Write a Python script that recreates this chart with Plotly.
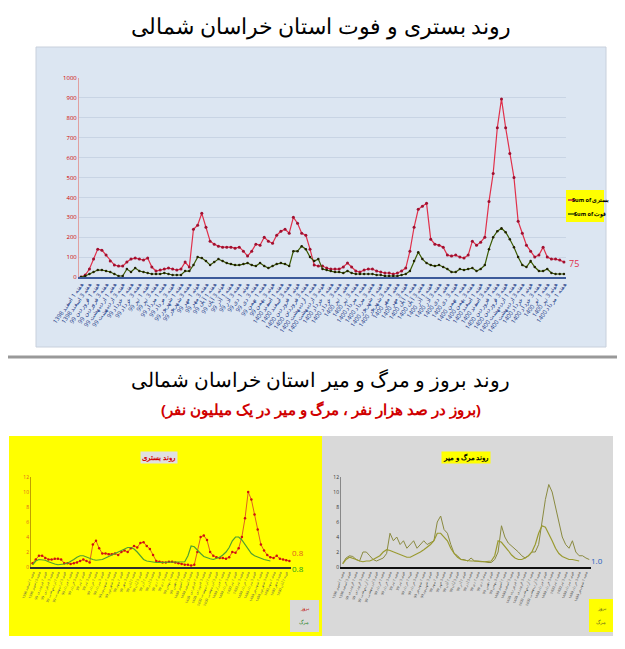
import plotly.graph_objects as go

W, H = 625, 649

# top chart: weekly hospitalised and deaths
hosp = [0, 10, 40, 90, 140, 135, 110, 80, 60, 55, 55, 75, 90, 95, 90, 85, 95, 50, 30, 35,
        40, 45, 40, 35, 40, 75, 50, 240, 260, 320, 250, 180, 165, 155, 150, 150, 150, 145, 150, 130,
        105, 130, 165, 160, 200, 180, 170, 210, 230, 240, 220, 300, 270, 220, 210, 140, 60, 55, 55, 45,
        40, 40, 40, 50, 70, 50, 30, 25, 35, 40, 40, 30, 25, 20, 20, 15, 20, 30, 45, 130,
        250, 340, 355, 370, 190, 165, 160, 150, 110, 105, 110, 100, 95, 110, 180, 160, 175, 200, 380, 520,
        750, 895, 750, 620, 500, 280, 220, 160, 130, 100, 110, 150, 100, 90, 90, 85, 75]
death = [0, 5, 15, 25, 35, 35, 30, 25, 15, 5, 5, 40, 25, 45, 30, 25, 20, 15, 15, 15,
         20, 15, 10, 10, 10, 30, 30, 60, 100, 95, 80, 60, 75, 90, 80, 70, 65, 60, 60, 65,
         70, 60, 55, 70, 55, 45, 55, 65, 70, 65, 55, 130, 130, 155, 140, 100, 80, 90, 40, 35,
         30, 25, 25, 20, 30, 20, 15, 15, 15, 15, 15, 10, 10, 5, 5, 5, 5, 10, 15, 30,
         80, 125, 90, 70, 60, 55, 60, 50, 40, 25, 25, 40, 35, 40, 45, 30, 40, 60, 140, 200,
         230, 245, 225, 190, 150, 100, 60, 50, 80, 50, 30, 30, 40, 20, 15, 15, 15]

# bottom charts: incidence per 100k, mortality per 1M
inc_l = [0.5, 1, 1.5, 1.5, 1.2, 1, 1, 1.1, 1.1, 1, 0.5, 0.5, 0.4, 0.5, 0.6, 0.8, 1, 0.8, 0.6, 3,
         3.5, 2.5, 1.8, 1.8, 1.7, 1.7, 1.8, 1.6, 2, 2.2, 2, 2.5, 2.8, 2.6, 3.2, 3.3, 2.8, 2.4, 1.6, 0.8,
         0.7, 0.6, 0.6, 0.7, 0.7, 0.6, 0.5, 0.4, 0.3, 0.3, 0.2, 0.3, 2, 4, 4.2, 3.6, 2, 1.5, 1.3, 1.2,
         1.2, 1.1, 1.3, 2, 1.9, 2.5, 4, 6.5, 10, 9, 7, 5, 3, 2.2, 1.6, 1.3, 1.2, 1.5, 1.1, 1, 0.9, 0.8]
mort_l = [0.3, 0.8, 1, 1, 0.9, 0.7, 0.5, 0.4, 0.3, 0.3, 0.4, 0.5, 0.7, 1, 1.3, 1.5, 1.5, 1.3, 1.1, 1,
          0.9, 0.9, 1, 1.2, 1.4, 1.6, 1.8, 2, 2.2, 2.4, 2.6, 2.6, 2.4, 2, 1.5, 1, 0.8, 0.7, 0.6, 0.6,
          0.6, 0.6, 0.6, 0.6, 0.6, 0.6, 0.6, 0.6, 0.7, 1.5, 2.8, 2.7, 2.2, 1.8, 1.4, 1.2, 1.1, 1, 1.1, 1.3,
          1.6, 2, 2.6, 3.5, 4, 4, 3.6, 3, 2.3, 1.8, 1.5, 1.3, 1.1, 1, 0.9, 0.8]
inc_r = [0.5, 1.2, 1.5, 1.4, 1, 0.8, 2, 2, 1.5, 1, 0.8, 1, 1.2, 1.8, 4.5, 3.5, 4, 3, 3.5, 2.5,
         3, 3.5, 2.5, 3, 3.5, 3, 3.2, 3.5, 6, 6.8, 5, 4.5, 3, 1.8, 1.5, 1, 1, 0.8, 1.2, 0.8,
         0.8, 0.8, 0.7, 0.6, 0.6, 1, 2, 5.5, 4, 3.2, 2.8, 2.5, 2, 1.5, 1.2, 1.5, 2, 2, 3, 6,
         9, 11, 10, 8, 6, 4, 3, 2.5, 3.5, 2, 1.5, 1.5, 1.2, 1]
mort_r = [0.4, 1, 1.3, 1.2, 1, 0.8, 0.7, 0.8, 0.8, 1, 1.2, 1.5, 2, 2.3, 2.2, 2, 1.8, 1.6, 1.4, 1.3,
          1.3, 1.5, 1.8, 2, 2.3, 2.6, 3, 3.5, 4.5, 4.5, 4, 3.5, 2.5, 1.8, 1.3, 1, 0.9, 0.8, 0.8, 0.8,
          0.7, 0.7, 0.7, 0.7, 0.8, 1.5, 3.5, 3.3, 2.8, 2.2, 1.6, 1.2, 1, 1, 1.2, 1.5, 2, 3, 4.5, 5.5,
          5.3, 4.5, 3.5, 2.5, 1.8, 1.4, 1.2, 1, 1, 0.9, 0.8]

months = ["اسفند", "فروردین", "اردیبهشت", "خرداد", "تیر", "مرداد", "شهریور", "مهر",
          "آبان", "آذر", "دی", "بهمن", "اسفند", "فروردین", "اردیبهشت", "خرداد", "تیر",
          "مرداد", "شهریور", "مهر", "آبان", "آذر", "دی", "بهمن", "اسفند", "فروردین",
          "اردیبهشت", "خرداد", "تیر", "مرداد"]
years = ["1398"] + ["99"] * 11 + ["1400"] * 18

# the page body adds a small offset, compensate for it
DX, DY = 7, 6


def px(x):
    return (x - DX) / W


def py(y):
    return 1 - (y - DY) / H


labels = []
for i in range(len(hosp)):
    m = min(i // 4, len(months) - 1)
    labels.append(f"هفته {i % 4 + 1} {months[m]} {years[m]}")

fig = go.Figure()
fig.add_trace(go.Scatter(x=list(range(len(hosp))), y=hosp, mode="lines+markers",
                         line=dict(color="#e0304a", width=1.2), marker=dict(size=3, color="#a01030"),
                         xaxis="x", yaxis="y"))
fig.add_trace(go.Scatter(x=list(range(len(death))), y=death, mode="lines+markers",
                         line=dict(color="#3a5a00", width=1.2), marker=dict(size=2.5, color="#202000"),
                         xaxis="x", yaxis="y"))
fig.add_trace(go.Scatter(x=list(range(len(inc_l))), y=inc_l, mode="lines+markers",
                         line=dict(color="#e06020", width=1), marker=dict(size=2.5, color="#d01010"),
                         xaxis="x2", yaxis="y2"))
fig.add_trace(go.Scatter(x=list(range(len(mort_l))), y=mort_l, mode="lines",
                         line=dict(color="#50a030", width=1.2), xaxis="x2", yaxis="y2"))
fig.add_trace(go.Scatter(x=list(range(len(inc_r))), y=inc_r, mode="lines",
                         line=dict(color="#8a8a40", width=1), xaxis="x3", yaxis="y3"))
fig.add_trace(go.Scatter(x=list(range(len(mort_r))), y=mort_r, mode="lines",
                         line=dict(color="#9a9a30", width=1.2), xaxis="x3", yaxis="y3"))


def rect(x0, y0, x1, y1, fill, line="rgba(0,0,0,0)"):
    return dict(type="rect", xref="paper", yref="paper", x0=px(x0), x1=px(x1), y0=py(y1), y1=py(y0),
                fillcolor=fill, line=dict(color=line, width=1), layer="below")


def seg(x0, x1, y, color):
    return dict(type="line", xref="paper", yref="paper", x0=px(x0), x1=px(x1), y0=py(y), y1=py(y),
                line=dict(color=color, width=1.5))


shapes = [
    rect(35, 45, 605, 345, "#dce6f2", "#c8d0dc"),
    dict(type="line", xref="paper", yref="paper", x0=0, x1=1, y0=py(355), y1=py(355),
         line=dict(color="#999999", width=3)),
    rect(8, 434, 321, 634, "#ffff00"),
    rect(321, 434, 612, 634, "#d9d9d9"),
    rect(565, 188, 603, 220, "#ffff00"),
    seg(567, 575, 198, "#c02040"),
    seg(567, 575, 212, "#3a5a00"),
    rect(289, 598, 318, 630, "#d9d9d9"),
    rect(588, 597, 612, 630, "#ffff00"),
]

ann = [
    dict(text="روند بستری و فوت استان خراسان شمالی", x=0.5, y=py(23), font=dict(size=22, color="black")),
    dict(text="روند بروز و مرگ و میر استان خراسان شمالی", x=0.5, y=py(377), font=dict(size=20, color="black")),
    dict(text="<b>(بروز در صد هزار نفر ، مرگ و میر در یک میلیون نفر)</b>", x=0.5, y=py(407),
         font=dict(size=15, color="#d00000")),
    dict(text="75", x=px(573), y=py(262), font=dict(size=9, color="#e0304a")),
    dict(text="<b>Sum of بستری</b>", x=px(589), y=py(198), font=dict(size=5.5, color="black")),
    dict(text="<b>Sum of فوت</b>", x=px(589), y=py(212), font=dict(size=5.5, color="black")),
    dict(text="<b>روند بستری</b>", x=px(158), y=py(455), font=dict(size=7, color="#d00000"),
         bgcolor="#e0e0e0"),
    dict(text="<b>روند مرگ و میر</b>", x=px(465), y=py(455), font=dict(size=7, color="black"),
         bgcolor="#ffff00"),
    dict(text="0.8", x=px(297), y=py(550), font=dict(size=8, color="#e06020")),
    dict(text="0.8", x=px(297), y=py(566), font=dict(size=8, color="#20a020")),
    dict(text="1.0", x=px(596), y=py(558), font=dict(size=8, color="#2060c0")),
    dict(text="بروز", x=px(303), y=py(606), font=dict(size=5, color="#c00000")),
    dict(text="مرگ", x=px(303), y=py(620), font=dict(size=5, color="#208020")),
    dict(text="بروز", x=px(600), y=py(606), font=dict(size=5, color="#606020")),
    dict(text="مرگ", x=px(600), y=py(620), font=dict(size=5, color="#606020")),
]
for a in ann:
    a.update(xref="paper", yref="paper", showarrow=False, xanchor="center", yanchor="middle")

ax_common = dict(showgrid=False, zeroline=False, showline=True, automargin=False)
fig.update_layout(
    width=W, height=H, margin=dict(l=0, r=0, t=0, b=0, autoexpand=False),
    paper_bgcolor="white", plot_bgcolor="rgba(0,0,0,0)",
    shapes=shapes, annotations=ann, showlegend=False,
    xaxis=dict(domain=[px(78), px(565)], anchor="y", range=[-0.5, len(hosp) - 0.5],
               tickmode="array", tickvals=list(range(0, len(hosp), 2)),
               ticktext=labels[::2], tickangle=-55, tickfont=dict(size=6, color="#1f3c88"),
               linecolor="#3c5a9a", linewidth=2, **ax_common),
    yaxis=dict(domain=[py(275), py(76)], anchor="x", range=[0, 1000], dtick=100,
               tickfont=dict(size=6, color="#d00000"), showgrid=True, gridcolor="#c8d4e4",
               zeroline=False, showline=True, linecolor="#e0a0a0", automargin=False),
    xaxis2=dict(domain=[px(30), px(290)], anchor="y2", range=[-0.5, len(inc_l) - 0.5],
                tickmode="array", tickvals=list(range(0, len(inc_l), 2)),
                ticktext=labels[:len(inc_l):2], tickangle=-70, tickfont=dict(size=3.5, color="#555"),
                linecolor="#303030", linewidth=2, **ax_common),
    yaxis2=dict(domain=[py(565), py(475)], anchor="x2", range=[0, 12], dtick=2,
                tickfont=dict(size=5, color="#e06020"), showline=True, linecolor="#c0a000",
                showgrid=False, zeroline=False, automargin=False),
    xaxis3=dict(domain=[px(340), px(590)], anchor="y3", range=[-0.5, len(inc_r) - 0.5],
                tickmode="array", tickvals=list(range(0, len(inc_r), 2)),
                ticktext=labels[:len(inc_r):2], tickangle=-70, tickfont=dict(size=3.5, color="#444"),
                linecolor="#101010", linewidth=2, **ax_common),
    yaxis3=dict(domain=[py(565), py(475)], anchor="x3", range=[0, 12], dtick=2,
                tickfont=dict(size=5, color="#333"), showline=True, linecolor="#888",
                showgrid=False, zeroline=False, automargin=False),
)

fig.write_html("out.html")
